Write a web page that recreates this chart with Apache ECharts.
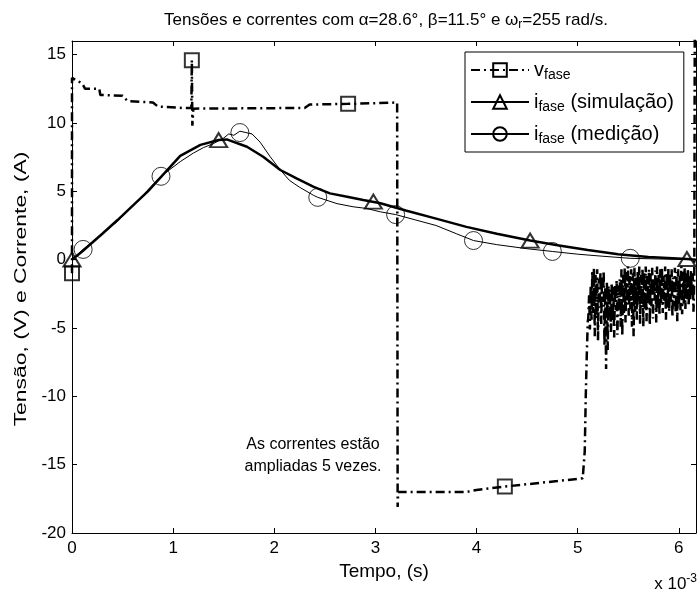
<!DOCTYPE html>
<html><head><meta charset="utf-8">
<script src="https://cdn.jsdelivr.net/npm/echarts@6/dist/echarts.min.js"></script>
<style>html,body{margin:0;padding:0;background:#fff}#c{width:699px;height:592px}</style>
</head><body><div id="c"></div>
<script>
// x in units of 1e-3 s
const xTicks = [0, 1, 2, 3, 4, 5, 6];
const yTicks = [-20, -15, -10, -5, 0, 5, 10, 15];

const vFase = [
  [0,-1.0],[0.0,13.3],[0.1,12.9],[0.13,12.5],[0.27,12.5],[0.28,12.05],[0.5,12.0],[0.55,11.6],
  [0.8,11.5],[0.85,11.2],[1.1,11.1],[1.18,11.1],[1.185,14.6],[1.19,9.8],[1.2,11.05],[2.3,11.1],
  [2.35,11.35],[2.73,11.4],[3.0,11.45],[3.215,11.5],[3.22,-18.1],[3.225,-17.0],[3.9,-17.0],
  [4.0,-16.85],[4.28,-16.6],[4.8,-16.2],[5.05,-16.0],[5.07,-14],[5.08,-10],[5.09,-7],[5.1,-4.5],
  [5.105,-4.3],[5.113,-2.6],[5.121,-5.1],[5.129,-1.9],[5.137,-4.4],[5.145,-0.8],[5.153,-3.9],[5.161,-0.6],
  [5.169,-5.6],[5.177,-1.1],[5.185,-4.3],[5.193,-0.7],[5.201,-5.9],[5.209,-1.4],[5.217,-3.5],[5.225,-0.9],
  [5.233,-4.7],[5.241,-1.2],[5.249,-3.1],[5.257,-0.8],[5.265,-6.3],[5.273,-2.0],[5.281,-8.0],[5.289,-1.6],
  [5.297,-6.6],[5.305,-1.9],[5.313,-4.1],[5.321,-2.2],[5.329,-5.3],[5.337,-1.7],[5.345,-4.5],[5.353,-2.0],
  [5.361,-5.7],[5.369,-1.8],[5.377,-3.7],[5.385,-1.5],[5.393,-5.5],[5.401,-1.9],[5.409,-3.4],[5.417,-1.4],
  [5.425,-4.9],[5.433,-0.7],[5.441,-5.6],[5.449,-1.1],[5.457,-3.9],[5.465,-0.6],[5.473,-4.6],[5.481,-0.9],
  [5.489,-3.3],[5.497,-0.5],[5.505,-4.1],[5.513,-1.2],[5.521,-3.6],[5.529,-0.7],[5.537,-4.9],[5.545,-1.0],
  [5.553,-5.6],[5.561,-0.6],[5.569,-3.8],[5.577,-1.3],[5.585,-4.4],[5.593,-0.8],[5.601,-3.1],[5.609,-0.5],
  [5.617,-4.7],[5.625,-1.1],[5.633,-3.5],[5.641,-0.6],[5.649,-4.9],[5.657,-0.9],[5.665,-3.7],[5.673,-0.5],
  [5.681,-4.5],[5.689,-1.2],[5.697,-3.2],[5.705,-0.7],[5.713,-4.8],[5.721,-1.0],[5.729,-3.4],[5.737,-0.6],
  [5.745,-4.3],[5.753,-1.3],[5.761,-3.0],[5.769,-0.8],[5.777,-4.6],[5.785,-0.5],[5.793,-3.6],[5.801,-1.1],
  [5.809,-4.1],[5.817,-0.7],[5.825,-3.3],[5.833,-0.6],[5.841,-3.9],[5.849,-1.2],[5.857,-3.0],[5.865,-0.5],
  [5.873,-4.4],[5.881,-0.9],[5.889,-3.5],[5.897,-0.6],[5.905,-3.8],[5.913,-1.0],[5.921,-3.1],[5.929,-0.7],
  [5.937,-4.2],[5.945,-1.3],[5.953,-3.4],[5.961,-0.6],[5.969,-3.9],[5.977,-0.9],[5.985,-4.5],[5.993,-0.7],
  [6.001,-3.3],[6.009,-1.1],[6.017,-3.7],[6.025,-0.5],[6.033,-4.0],[6.041,-0.9],[6.049,-3.2],[6.057,-0.6],
  [6.065,-3.6],[6.073,-1.0],[6.081,-2.9],[6.089,-0.7],[6.097,-3.4],[6.105,-1.1],[6.113,-3.0],[6.121,-0.8],
  [6.129,-2.7],[6.137,-1.0],[6.145,-3.8],[6.153,-1.4],[6.158,17]
];
const vFaseMarkers = [[0,-1.0],[1.185,14.6],[2.73,11.4],[4.28,-16.6]];

const iSim = [
  [0,0],[0.1,0.6],[0.3,1.9],[0.45,2.9],[0.75,5.0],[1.07,7.6],[1.27,8.4],[1.45,8.75],[1.53,8.8],
  [1.73,8.26],[1.89,7.53],[2.06,6.56],[2.22,5.95],[2.39,5.33],[2.55,4.85],[2.72,4.6],[2.88,4.36],
  [3.05,4.13],[3.3,3.6],[3.6,3.0],[3.9,2.4],[4.2,1.9],[4.53,1.4],[4.8,1.05],[5.1,0.7],[5.4,0.4],
  [5.7,0.2],[6.08,0.05],[6.17,0]
];
const iSimMarkers = [[0,0],[1.45,8.75],[2.98,4.25],[4.53,1.4],[6.08,0.05]];

const iMed = [
  [0,0],[0.05,0.35],[0.11,0.75],[0.2,1.3],[0.3,1.9],[0.45,2.8],[0.6,3.9],[0.75,5.1],[0.88,6.1],
  [1.07,7.17],[1.2,7.8],[1.3,8.2],[1.4,8.5],[1.5,8.9],[1.55,9.2],[1.6,9.1],[1.66,9.4],[1.72,9.3],
  [1.78,9.2],[1.86,8.6],[1.96,7.53],[2.06,6.56],[2.15,5.8],[2.25,5.3],[2.39,4.7],[2.43,4.56],
  [2.62,4.1],[2.78,3.87],[2.91,3.75],[3.05,3.5],[3.2,3.3],[3.4,2.9],[3.6,2.5],[3.8,1.9],[3.97,1.4],
  [4.2,1.1],[4.5,0.8],[4.75,0.6],[5.0,0.4],[5.25,0.25],[5.52,0.1],[5.8,0.05],[6.17,0]
];
const iMedMarkers = [[0.11,0.75],[0.88,6.1],[1.66,9.3],[2.43,4.56],[3.2,3.3],[3.97,1.4],[4.75,0.6],[5.52,0.1]];

const FONT = 'Liberation Sans, Arial, Helvetica, sans-serif';
const chart = echarts.init(document.getElementById('c'), null, {renderer: 'canvas'});
const hollow = {color: 'rgba(0,0,0,0)', borderColor: '#000', borderWidth: 2};
const hollowThin = {color: 'rgba(0,0,0,0)', borderColor: '#000', borderWidth: 1};
const dashDot = [9, 4, 2, 4];

const axisCommon = {
  axisLine: {onZero: false, lineStyle: {color: '#000', width: 1}},
  axisTick: {inside: true, length: 5, lineStyle: {color: '#000'}},
  splitLine: {show: false}
};

chart.setOption({
  animation: false,
  backgroundColor: '#fff',
  title: {
    text: 'Tensões e correntes com α=28.6°, β=11.5° e ω{sub|r}=255 rad/s.',
    left: 381, top: 5, textAlign: 'center',
    textStyle: {fontFamily: FONT, fontSize: 17, fontWeight: 'normal', color: '#000',
      rich: {sub: {fontFamily: FONT, fontSize: 12, padding: [9, 0, 0, 0], color: '#000'}}}
  },
  grid: {left: 72, right: 3, top: 41, bottom: 59},
  legend: {
    orient: 'vertical', left: 465, top: 52,
    backgroundColor: '#fff', borderColor: '#000', borderWidth: 1,
    padding: [6, 10, 6, 5], itemGap: 8, itemWidth: 58, itemHeight: 17,
    data: ['v_fase', 'i_fase (simulação)', 'i_fase (medição)'],
    formatter: n => n.replace(/^(\w)_(\w+)/, '$1{sub|$2}'),
    textStyle: {fontFamily: FONT, fontSize: 20, color: '#000', lineHeight: 24,
      rich: {sub: {fontFamily: FONT, fontSize: 14, lineHeight: 24, padding: [10, 0, 0, 0], color: '#000'}}}
  },
  xAxis: [
    Object.assign({type: 'value', min: 0, max: 6.17, interval: 1, position: 'bottom',
      name: 'Tempo, (s)', nameLocation: 'middle', nameGap: 27,
      nameTextStyle: {fontFamily: FONT, fontSize: 19, color: '#000'},
      axisLabel: {fontFamily: FONT, fontSize: 17, color: '#000', margin: 7, showMaxLabel: false,
        formatter: v => xTicks.includes(v) ? String(v) : ''}}, axisCommon),
    Object.assign({type: 'value', min: 0, max: 6.17, interval: 1, position: 'top',
      axisLabel: {show: false}}, axisCommon)
  ],
  yAxis: [
    Object.assign({type: 'value', min: -20, max: 16, interval: 5, position: 'left',
      axisLabel: {fontFamily: FONT, fontSize: 17, color: '#000', margin: 6, showMaxLabel: false,
        formatter: v => yTicks.includes(v) ? String(v) : ''}}, axisCommon),
    Object.assign({type: 'value', min: -20, max: 16, interval: 5, position: 'right',
      axisLabel: {show: false}}, axisCommon)
  ],
  graphic: [
    {type: 'text', x: 22, y: 289, rotation: Math.PI / 2, scaleX: 1.43, z: 10,
      style: {text: 'Tensão, (V) e Corrente, (A)', fontFamily: FONT, fontSize: 16, fill: '#000',
        align: 'center', verticalAlign: 'middle'}},
    {type: 'text', x: 313, y: 434, z: 10, style: {text: 'As correntes estão\nampliadas 5 vezes.',
      fontFamily: FONT, fontSize: 16, fill: '#000', align: 'center', lineHeight: 22}},
    {type: 'text', x: 697, y: 573, z: 10, style: {text: 'x 10{sup|-3}', fontFamily: FONT, fontSize: 17, fill: '#000',
      align: 'right', rich: {sup: {fontFamily: FONT, fontSize: 12, padding: [0, 0, 11, 0]}}}}
  ],
  series: [
    {name: 'v_fase', type: 'line', data: vFase, symbol: 'rect', showSymbol: false,
      lineStyle: {color: '#000', width: 2.5, type: dashDot}, itemStyle: hollow, z: 2},
    {name: 'i_fase (simulação)', type: 'line', data: iSim, symbol: 'triangle', showSymbol: false,
      lineStyle: {color: '#000', width: 2.5}, itemStyle: hollow, z: 3},
    {name: 'i_fase (medição)', type: 'line', data: iMed, symbol: 'circle', showSymbol: false,
      lineStyle: {color: '#000', width: 1}, itemStyle: hollowThin, z: 4},
    {type: 'scatter', data: vFaseMarkers, symbol: 'rect', symbolSize: 14, itemStyle: hollow, silent: true, z: 5},
    {type: 'scatter', data: iSimMarkers, symbol: 'triangle', symbolSize: [17, 14], itemStyle: hollow, silent: true, z: 5},
    {type: 'scatter', data: iMedMarkers, symbol: 'circle', symbolSize: 18, itemStyle: hollowThin, silent: true, z: 5}
  ]
});
</script>
</body></html>
